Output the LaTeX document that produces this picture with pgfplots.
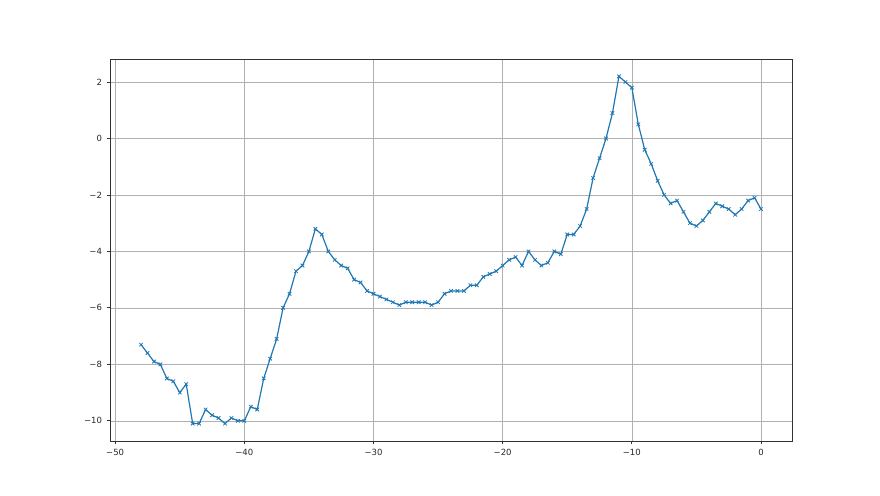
\documentclass[border=0pt]{standalone}
\usepackage{fontspec}
\setmainfont{DejaVu Sans}
\usepackage{pgfplots}
\pgfplotsset{compat=1.18}
\definecolor{c0}{HTML}{1F77B4}
\definecolor{gridc}{HTML}{B0B0B0}

\begin{document}
\begin{tikzpicture}
\useasboundingbox (0,0) rectangle (880pt,495pt);
\begin{axis}[
  at={(110pt,54pt)}, anchor=south west,
  width=682pt, height=382pt, scale only axis,
  xmin=-50.4, xmax=2.4, ymin=-10.715, ymax=2.815,
  xtick={-50,-40,-30,-20,-10,0},
  xticklabels={−50,−40,−30,−20,−10,0},
  ytick={-10,-8,-6,-4,-2,0,2},
  yticklabels={−10,−8,−6,−4,−2,0,2},
  grid=major, grid style={gridc, line width=0.5pt},
  axis line style={line width=0.8pt, black!80},
  tick style={black!80, line width=0.8pt},
  tick align=outside, major tick length=3.5pt,
  xtick pos=bottom, ytick pos=left,
  ticklabel style={font=\fontsize{8.5}{10}\selectfont, text=black!85},
  xticklabel style={yshift=-1pt},
  yticklabel style={xshift=-1pt},
]
\addplot[c0, line width=1.2pt, mark=x, mark size=2.5pt,
  mark options={line width=0.8pt}]
 coordinates {
  (-48,-7.3) (-47.5,-7.6) (-47,-7.9) (-46.5,-8.0) (-46,-8.5) (-45.5,-8.6)
  (-45,-9.0) (-44.5,-8.7) (-44,-10.1) (-43.5,-10.1) (-43,-9.6) (-42.5,-9.8)
  (-42,-9.9) (-41.5,-10.1) (-41,-9.9) (-40.5,-10.0) (-40,-10.0) (-39.5,-9.5)
  (-39,-9.6) (-38.5,-8.5) (-38,-7.8) (-37.5,-7.1) (-37,-6.0) (-36.5,-5.5)
  (-36,-4.7) (-35.5,-4.5) (-35,-4.0) (-34.5,-3.2) (-34,-3.4) (-33.5,-4.0)
  (-33,-4.3) (-32.5,-4.5) (-32,-4.6) (-31.5,-5.0) (-31,-5.1) (-30.5,-5.4)
  (-30,-5.5) (-29.5,-5.6) (-29,-5.7) (-28.5,-5.8) (-28,-5.9) (-27.5,-5.8)
  (-27,-5.8) (-26.5,-5.8) (-26,-5.8) (-25.5,-5.9) (-25,-5.8) (-24.5,-5.5)
  (-24,-5.4) (-23.5,-5.4) (-23,-5.4) (-22.5,-5.2) (-22,-5.2) (-21.5,-4.9)
  (-21,-4.8) (-20.5,-4.7) (-20,-4.5) (-19.5,-4.3) (-19,-4.2) (-18.5,-4.5)
  (-18,-4.0) (-17.5,-4.3) (-17,-4.5) (-16.5,-4.4) (-16,-4.0) (-15.5,-4.1)
  (-15,-3.4) (-14.5,-3.4) (-14,-3.1) (-13.5,-2.5) (-13,-1.4) (-12.5,-0.7)
  (-12,0.0) (-11.5,0.9) (-11,2.2) (-10.5,2.0) (-10,1.8) (-9.5,0.5)
  (-9,-0.4) (-8.5,-0.9) (-8,-1.5) (-7.5,-2.0) (-7,-2.3) (-6.5,-2.2)
  (-6,-2.6) (-5.5,-3.0) (-5,-3.1) (-4.5,-2.9) (-4,-2.6) (-3.5,-2.3)
  (-3,-2.4) (-2.5,-2.5) (-2,-2.7) (-1.5,-2.5) (-1,-2.2) (-0.5,-2.1)
  (0,-2.5)
 };
\end{axis}
\end{tikzpicture}
\end{document}
